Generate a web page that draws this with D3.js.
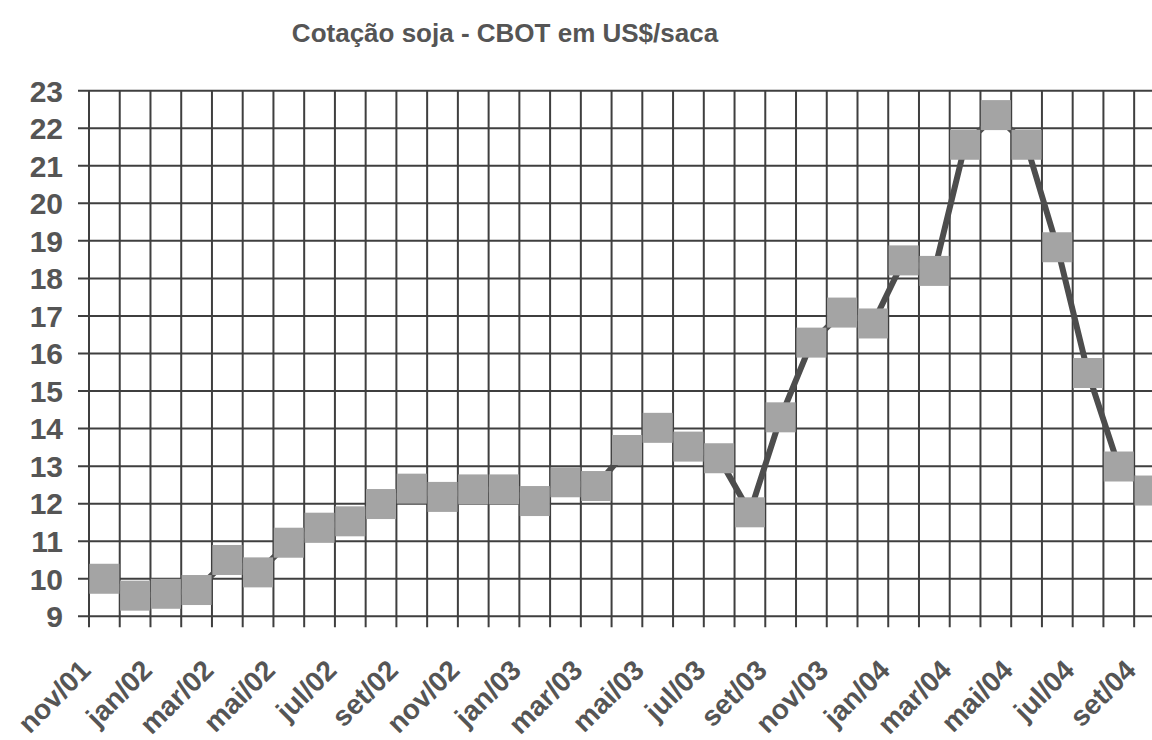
<!DOCTYPE html>
<html>
<head>
<meta charset="utf-8">
<script src="https://cdn.jsdelivr.net/npm/d3@7"></script>
<style>
  html, body { margin: 0; padding: 0; background: #fff; overflow: hidden; }
  svg { display: block; }
</style>
</head>
<body>
<svg id="chart" width="1152" height="740"></svg>
<script>
const title = "Cotação soja - CBOT em US$/saca";
const months = [
  "nov/01","dez/01",
  "jan/02","fev/02","mar/02","abr/02","mai/02","jun/02","jul/02","ago/02","set/02","out/02","nov/02","dez/02",
  "jan/03","fev/03","mar/03","abr/03","mai/03","jun/03","jul/03","ago/03","set/03","out/03","nov/03","dez/03",
  "jan/04","fev/04","mar/04","abr/04","mai/04","jun/04","jul/04","ago/04","set/04"
];
const prices = [
  10.0, 9.55,
  9.6, 9.7, 10.5, 10.17, 10.96, 11.36, 11.53, 11.99, 12.4, 12.18,
  12.38, 12.38, 12.07, 12.57, 12.47, 13.43, 14.02, 13.52, 13.21, 11.77,
  14.3, 16.29, 17.09, 16.8, 18.48, 18.2, 21.56, 22.35, 21.56, 18.83,
  15.48, 12.99, 12.35
];
const yTicks = d3.range(9, 24);

(function () {
const svg = d3.select("#chart");
const pLeft = 89, pTop = 90.7, pBottom = 616.3, band = 30.74;
const pRight = pLeft + band * months.length;

const x = d3.scaleBand().domain(months).range([pLeft, pRight]).paddingInner(0).paddingOuter(0);
const y = d3.scaleLinear().domain([9, 23]).range([pBottom, pTop]);

const textColor = "#555";
const gridColor = "#3f3f3f";
const font = "'Liberation Sans', Arial, sans-serif";

svg.append("text")
  .attr("x", 505).attr("y", 42)
  .attr("text-anchor", "middle")
  .attr("font-family", font).attr("font-weight", "bold").attr("font-size", 26)
  .attr("fill", textColor)
  .text(title);

const g = svg.append("g");
g.selectAll("line.h").data(yTicks).join("line")
  .attr("class", "h")
  .attr("x1", pLeft - 11).attr("x2", pRight)
  .attr("y1", d => y(d)).attr("y2", d => y(d))
  .attr("stroke", gridColor).attr("stroke-width", 2);

const bounds = months.map(m => x(m)).concat([pRight]);
g.selectAll("line.v").data(bounds).join("line")
  .attr("class", "v")
  .attr("x1", d => d).attr("x2", d => d)
  .attr("y1", pTop).attr("y2", pBottom + 11)
  .attr("stroke", gridColor).attr("stroke-width", 2);

svg.append("g").selectAll("text").data(yTicks).join("text")
  .attr("x", 63).attr("y", d => y(d))
  .attr("dy", "0.36em")
  .attr("text-anchor", "end")
  .attr("font-family", font).attr("font-weight", "bold").attr("font-size", 30)
  .attr("fill", textColor)
  .text(d => d3.format("d")(d));

const shown = months.filter((m, i) => i % 2 === 0);
svg.append("g").selectAll("text").data(shown).join("text")
  .attr("transform", d => `translate(${x(d) + x.bandwidth() / 2 - 12},672) rotate(-45)`)
  .attr("text-anchor", "end")
  .attr("font-family", font).attr("font-weight", "bold").attr("font-size", 28)
  .attr("fill", textColor)
  .text(d => d);

const data = months.map((m, i) => ({ m, v: prices[i] }));
const line = d3.line().x(d => x(d.m) + x.bandwidth() / 2).y(d => y(d.v));
svg.append("path").datum(data)
  .attr("d", line)
  .attr("fill", "none")
  .attr("stroke", "#4d4d4d")
  .attr("stroke-width", 6);

const ms = 30;
svg.append("g").selectAll("rect").data(data).join("rect")
  .attr("x", d => x(d.m) + x.bandwidth() / 2 - ms / 2)
  .attr("y", d => y(d.v) - ms / 2)
  .attr("width", ms).attr("height", ms)
  .attr("fill", "#a4a4a4");
})();
</script>
</body>
</html>
